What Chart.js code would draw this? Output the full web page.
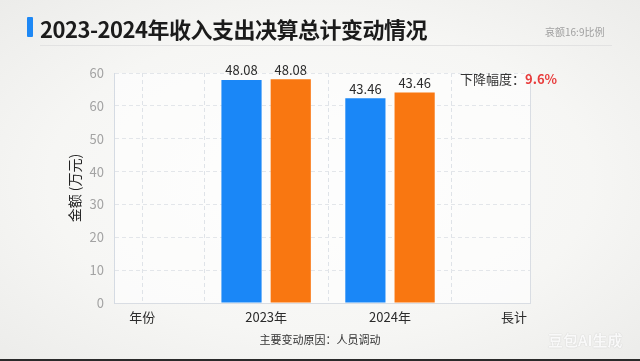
<!DOCTYPE html>
<html><head><meta charset="utf-8">
<script src="https://cdn.jsdelivr.net/npm/chart.js@4/dist/chart.umd.min.js"></script>
<style>
html,body{margin:0;padding:0;}
body{width:640px;height:361px;overflow:hidden;position:relative;font-family:"Noto Sans CJK SC","Noto Sans",sans-serif;
background:radial-gradient(ellipse at 50% 50%, #fbfbfa 0%, #f6f6f4 60%, #ececea 100%);}
#c{position:absolute;left:0;top:0;}
.mark{position:absolute;left:27px;top:17px;width:6px;height:20px;background:#1e88f5;border-radius:1px;}
.title{position:absolute;left:40px;top:12px;font-size:22px;font-weight:bold;color:#1b1b1b;white-space:nowrap;letter-spacing:-0.5px;}
.sub{position:absolute;left:545px;top:24px;font-size:10px;color:#a0a0a0;white-space:nowrap;}
.sep{position:absolute;left:40px;top:45px;width:572px;height:1px;background:#e2e2e2;}
.note{position:absolute;left:460px;top:69px;font-size:13px;color:#333;white-space:nowrap;}
.note b{color:#e83b3b;font-weight:bold;}
.foot{position:absolute;left:0;width:640px;top:331px;text-align:center;font-size:11px;color:#333;}
.wm{position:absolute;left:548px;top:329px;font-size:15px;font-weight:bold;color:rgba(255,255,255,0.9);text-shadow:0 0 1px rgba(0,0,0,0.25);white-space:nowrap;}
.bot{position:absolute;left:0;top:359px;width:640px;height:2px;background:#2a2a2a;}
</style></head>
<body>
<canvas id="c" width="640" height="361"></canvas>
<div class="mark"></div>
<div class="title">2023-2024年收入支出决算总计变动情况</div>
<div class="sub">哀额16:9比例</div>
<div class="sep"></div>
<div class="note">下降幅度：<b>9.6%</b></div>
<div class="foot">主要变动原因：人员调动</div>
<div class="wm">豆包AI生成</div>
<div class="bot"></div>
<script>
const categories = ['年份', '2023年', '2024年', '長计'];
const barPositions = [1, 2];
const incomeValues = [67.9, 62.3];
const expenseValues = [68.1, 64.1];
const incomeLabels = ['48.08', '43.46'];
const expenseLabels = ['48.08', '43.46'];
const yTickLabels = ['0', '10', '20', '30', '40', '50', '60', '60'];
const xTickValues = [0, 0.5, 1, 1.5, 2, 2.5, 3];
const xGridValues = [0, 0.5, 1.5, 2.5];
const yAxisTitle = '金额 (万元)';

const FONT = '"Noto Sans CJK SC","Noto Sans",sans-serif';

const valueLabels = {
  id: 'valueLabels',
  afterDatasetsDraw(chart) {
    const ctx = chart.ctx;
    const sets = [incomeLabels, expenseLabels];
    ctx.save();
    ctx.font = '13px ' + FONT;
    ctx.fillStyle = '#2b2b2b';
    ctx.textAlign = 'center';
    ctx.textBaseline = 'bottom';
    chart.data.datasets.forEach((ds, di) => {
      chart.getDatasetMeta(di).data.forEach((el, i) => {
        ctx.fillText(sets[di][i], el.x, el.y - 3);
      });
    });
    ctx.restore();
  }
};
const frame = {
  id: 'frame',
  beforeDatasetsDraw(chart) {
    const {ctx, chartArea: a} = chart;
    ctx.save();
    ctx.strokeStyle = '#d9dde3';
    ctx.lineWidth = 1;
    ctx.beginPath();
    ctx.moveTo(Math.round(a.right) + 0.5, a.top);
    ctx.lineTo(Math.round(a.right) + 0.5, a.bottom);
    ctx.stroke();
    ctx.restore();
  },
  beforeDraw(chart) {
    const {ctx, chartArea: a} = chart;
    ctx.save();
    ctx.fillStyle = 'rgba(255,255,255,0.6)';
    ctx.fillRect(a.left, a.top, a.right - a.left, a.bottom - a.top);
    ctx.restore();
  }
};

const data = {
  datasets: [
    {
      label: '收入',
      data: barPositions.map((x, i) => ({x, y: incomeValues[i]})),
      backgroundColor: '#1a87f7',
      borderWidth: 0
    },
    {
      label: '支出',
      data: barPositions.map((x, i) => ({x, y: expenseValues[i]})),
      backgroundColor: '#f97711',
      borderWidth: 0
    }
  ]
};

new Chart(document.getElementById('c'), {
  type: 'bar',
  data,
  plugins: [valueLabels, frame],
  options: {
    responsive: false,
    animation: false,
    layout: {padding: {top: 73, right: 110, left: 0, bottom: 0}},
    categoryPercentage: 1.59,
    barPercentage: 0.816,
    plugins: {legend: {display: false}, tooltip: {enabled: false}},
    scales: {
      x: {
        type: 'linear',
        offset: false,
        min: -0.228,
        max: 3.13,
        afterBuildTicks: s => { s.ticks = xTickValues.map(v => ({value: v})); },
        afterFit: s => { s.height = 58; },
        ticks: {
          autoSkip: false,
          maxRotation: 0,
          padding: 6,
          color: '#2b2b2b',
          font: {family: FONT, size: 13},
          callback: v => Number.isInteger(v) ? categories[v] : ''
        },
        grid: {
          offset: false,
          drawTicks: false,
          color: c => (c.tick && xGridValues.includes(c.tick.value)) ? '#dfe3e8' : 'rgba(0,0,0,0)'
        },
        border: {display: true, color: '#d9dde3', dash: [4, 3]}
      },
      y: {
        min: 0,
        max: 70,
        afterFit: s => { s.width = 114; },
        ticks: {
          stepSize: 10,
          padding: 10,
          color: '#a3a3a3',
          font: {family: FONT, size: 13},
          callback: (v, i) => yTickLabels[i]
        },
        grid: {drawTicks: false, color: '#e3e6ea'},
        border: {display: true, color: '#d5dbe3', dash: [4, 3]},
        title: {
          display: true,
          text: yAxisTitle,
          color: '#222',
          font: {family: FONT, size: 14},
          padding: {top: 66, bottom: 0}
        }
      }
    }
  }
});
</script>
</body></html>
